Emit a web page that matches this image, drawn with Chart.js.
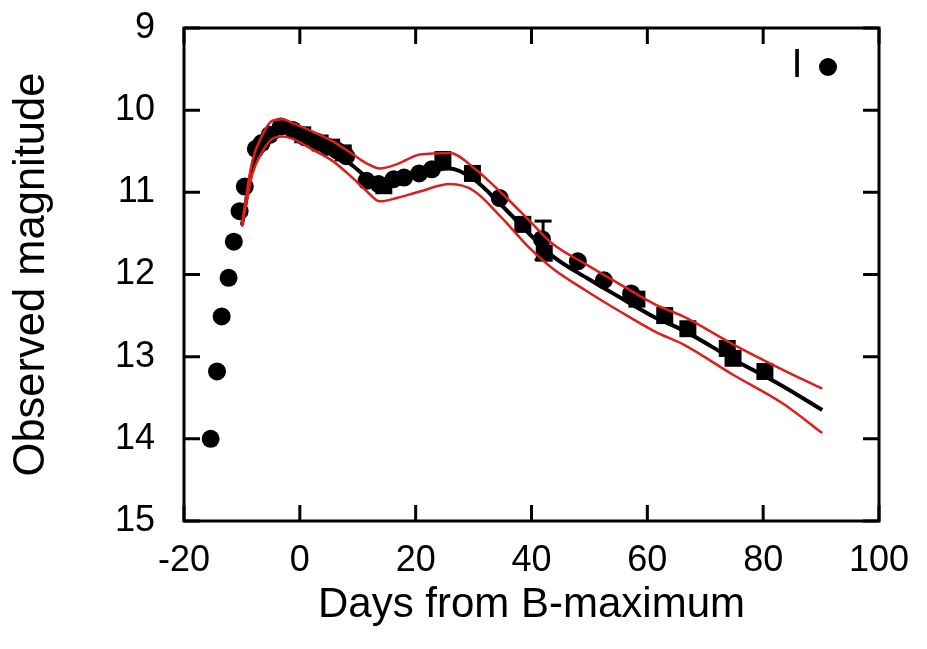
<!DOCTYPE html>
<html>
<head>
<meta charset="utf-8">
<script src="https://cdn.jsdelivr.net/npm/chart.js@4"></script>
<style>
  html, body { margin: 0; padding: 0; background: #fff; }
  #wrap { width: 927px; height: 649px; }
</style>
</head>
<body>
<div id="wrap"><canvas id="lc"></canvas></div>
<script>
// I-band observations (days from B max, magnitude)
const circleDays = [-15.4, -14.3, -13.5, -12.3, -11.4, -10.4, -9.5, -7.6, -6.6, -5.2, -3.3, -1.2, 0.9, 2.9, 4.7, 6.4, 8.0, 11.5, 13.6, 16.2, 18.0, 20.6, 22.8, 34.5, 41.8, 48.0, 52.5, 57.2];
const circleMags = [14.0, 13.18, 12.51, 12.04, 11.6, 11.23, 10.93, 10.47, 10.4, 10.3, 10.2, 10.24, 10.33, 10.38, 10.44, 10.49, 10.56, 10.86, 10.9, 10.84, 10.82, 10.77, 10.72, 11.07, 11.57, 11.84, 12.07, 12.23];
const squareDays = [0.5, 3.5, 5.5, 7.5, 14.5, 24.7, 29.8, 38.5, 42.2, 58.2, 63.0, 67.0, 73.8, 74.8, 80.3];
const squareMags = [10.3, 10.4, 10.45, 10.52, 10.92, 10.6, 10.77, 11.39, 11.74, 12.3, 12.5, 12.66, 12.9, 13.02, 13.18];

// one point with an error bar
const errDay = 42.0;
const errLow = 11.35;
const errHigh = 11.82;

// template fit and its band
const modelDays = [-10, -8.2, -6.6, -4.8, -3, -1.2, 2.2, 5.7, 9.2, 11.6, 13.8, 16.7, 20.7, 25.9, 30, 35, 39.7, 43.7, 49.5, 55.3, 61.5, 66.2, 74.8, 83.4, 90.2];
const modelMag = [11.4, 10.7, 10.42, 10.24, 10.21, 10.25, 10.37, 10.5, 10.68, 10.82, 10.91, 10.87, 10.77, 10.71, 10.84, 11.17, 11.51, 11.78, 12.04, 12.28, 12.53, 12.68, 13.03, 13.36, 13.65];
const upperMag = [11.38, 10.62, 10.32, 10.13, 10.11, 10.16, 10.26, 10.38, 10.54, 10.65, 10.71, 10.66, 10.54, 10.52, 10.7, 11.02, 11.35, 11.63, 11.88, 12.12, 12.37, 12.51, 12.85, 13.16, 13.39];
const lowerMag = [11.42, 10.78, 10.52, 10.35, 10.32, 10.35, 10.48, 10.62, 10.83, 10.99, 11.11, 11.07, 10.99, 10.9, 10.98, 11.32, 11.68, 11.93, 12.2, 12.45, 12.7, 12.85, 13.22, 13.57, 13.93];

const FONT = '"Liberation Sans", Helvetica, Arial, sans-serif';
const pts = (xs, ys) => xs.map((d, i) => ({x: d, y: ys[i]}));

// border box, inward ticks on all four sides, and the key
const frame = {
  id: 'frame',
  afterDatasetsDraw(chart) {
    const {ctx, chartArea: a, scales: {x, y}} = chart;
    const tl = 16;
    ctx.save();
    ctx.strokeStyle = '#000';
    ctx.lineWidth = 3;
    ctx.beginPath();
    x.ticks.forEach(t => {
      const px = x.getPixelForValue(t.value);
      ctx.moveTo(px, a.bottom); ctx.lineTo(px, a.bottom - tl);
      ctx.moveTo(px, a.top); ctx.lineTo(px, a.top + tl);
    });
    y.ticks.forEach(t => {
      const py = y.getPixelForValue(t.value);
      ctx.moveTo(a.left, py); ctx.lineTo(a.left + tl, py);
      ctx.moveTo(a.right, py); ctx.lineTo(a.right - tl, py);
    });
    ctx.stroke();
    ctx.strokeRect(a.left, a.top, a.right - a.left, a.bottom - a.top);

    ctx.fillStyle = '#000';
    ctx.font = '40px ' + FONT;
    ctx.textAlign = 'center';
    ctx.textBaseline = 'middle';
    ctx.fillText('I', a.right - 82, a.top + 38);
    ctx.beginPath();
    ctx.arc(a.right - 51, a.top + 39, 9, 0, Math.PI * 2);
    ctx.fill();
    ctx.restore();
  }
};

new Chart(document.getElementById('lc'), {
  type: 'scatter',
  data: {
    datasets: [
      {
        label: 'upper',
        data: pts(modelDays, upperMag),
        showLine: true, pointRadius: 0, borderColor: '#dc1e1e', borderWidth: 2.5,
        cubicInterpolationMode: 'monotone', order: 0
      },
      {
        label: 'lower',
        data: pts(modelDays, lowerMag),
        showLine: true, pointRadius: 0, borderColor: '#dc1e1e', borderWidth: 2.5,
        cubicInterpolationMode: 'monotone', order: 0
      },
      {
        label: 'I',
        data: pts(circleDays, circleMags),
        pointStyle: 'circle', pointRadius: 9, pointBorderWidth: 0,
        backgroundColor: '#000', borderColor: '#000', order: 1
      },
      {
        label: 'I squares',
        data: pts(squareDays, squareMags),
        pointStyle: 'rect', pointRadius: 12, pointBorderWidth: 0,
        backgroundColor: '#000', borderColor: '#000', order: 1
      },
      {
        label: 'error',
        data: [{x: errDay, y: errLow}, {x: errDay, y: errHigh}],
        showLine: true, borderColor: '#000', borderWidth: 3,
        pointStyle: 'line', pointRadius: 8.5, pointBorderWidth: 3,
        pointBorderColor: '#000', order: 1
      },
      {
        label: 'model',
        data: pts(modelDays, modelMag),
        showLine: true, pointRadius: 0, borderColor: '#000', borderWidth: 4,
        cubicInterpolationMode: 'monotone', order: 2
      }
    ]
  },
  options: {
    responsive: true,
    maintainAspectRatio: false,
    animation: false,
    layout: { padding: { left: 0, top: 28, right: 48, bottom: 0 } },
    plugins: { legend: { display: false }, tooltip: { enabled: false } },
    scales: {
      x: {
        min: -20, max: 100,
        grid: { display: false, drawTicks: false },
        border: { display: false },
        ticks: { stepSize: 20, padding: 18, color: '#000', font: { family: FONT, size: 36 } },
        title: { display: true, text: 'Days from B-maximum', color: '#000', font: { family: FONT, size: 42 }, padding: { top: 0, bottom: 18 } },
        afterFit(s) { s.height = 128; s.paddingLeft = 0; s.paddingRight = 0; }
      },
      y: {
        min: 9, max: 15, reverse: true,
        grid: { display: false, drawTicks: false },
        border: { display: false },
        ticks: { stepSize: 1, padding: 29, color: '#000', font: { family: FONT, size: 36 } },
        title: { display: true, text: 'Observed magnitude', color: '#000', font: { family: FONT, size: 43.5 }, padding: { top: 6, bottom: 0 } },
        afterFit(s) { s.width = 184; s.paddingTop = 0; s.paddingBottom = 0; }
      }
    }
  },
  plugins: [frame]
});
</script>
</body>
</html>
